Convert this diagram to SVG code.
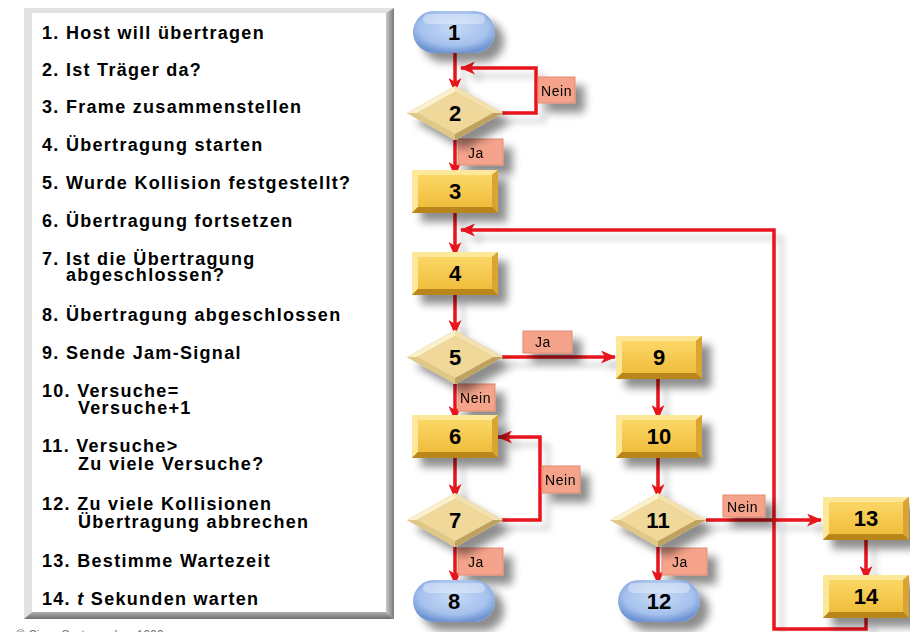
<svg xmlns="http://www.w3.org/2000/svg" xmlns:xlink="http://www.w3.org/1999/xlink" width="910" height="632" viewBox="0 0 910 632">
<style>
.lg{font-family:"Liberation Sans",Arial,sans-serif;font-weight:bold;font-size:18px;letter-spacing:1.3px;fill:#000}
.nd{font-family:"Liberation Sans",Arial,sans-serif;font-weight:bold;font-size:22px;fill:#000;text-anchor:middle}
.lb{font-family:"Liberation Sans",Arial,sans-serif;font-size:14px;letter-spacing:0.6px;fill:#000}
.lbx{fill:#f6a38b;stroke:#e08a70;stroke-width:1}
.cn{fill:none;stroke:#e8131b;stroke-width:3.5;stroke-linejoin:miter}
.ar{marker-end:url(#ah)}
</style>
<defs>
<filter id="sh" x="-30%" y="-30%" width="180%" height="180%">
<feGaussianBlur in="SourceAlpha" stdDeviation="4"/>
<feOffset dx="9" dy="9"/>
<feComponentTransfer><feFuncA type="linear" slope="0.45"/></feComponentTransfer>
<feMerge><feMergeNode/><feMergeNode in="SourceGraphic"/></feMerge>
</filter>
<filter id="shl" x="-10%" y="-10%" width="120%" height="120%">
<feGaussianBlur in="SourceAlpha" stdDeviation="3"/>
<feOffset dx="8" dy="8"/>
<feComponentTransfer><feFuncA type="linear" slope="0.2"/></feComponentTransfer>
<feMerge><feMergeNode/><feMergeNode in="SourceGraphic"/></feMerge>
</filter>
<linearGradient id="gBox" x1="0" y1="0" x2="0" y2="1"><stop offset="0" stop-color="#fbd766"/><stop offset="1" stop-color="#f0bd3c"/></linearGradient>
<radialGradient id="gPill" cx="0.5" cy="0.4" r="0.6"><stop offset="0" stop-color="#c8dbf7"/><stop offset="0.7" stop-color="#a5c1ed"/><stop offset="1" stop-color="#6e94d2"/></radialGradient>
<linearGradient id="gR" x1="0" y1="0" x2="1" y2="0"><stop offset="0" stop-color="#c8c8c8"/><stop offset="1" stop-color="#7a7a7a"/></linearGradient>
<linearGradient id="gB" x1="0" y1="0" x2="0" y2="1"><stop offset="0" stop-color="#b0b0b0"/><stop offset="1" stop-color="#6e6e6e"/></linearGradient>
<g id="box">
<rect width="86" height="43" fill="#c9962a"/>
<polygon points="0,0 86,0 80,5 6,5 6,37 0,43" fill="#fde799"/>
<polygon points="86,0 86,43 80,37 80,5" fill="#d9a432"/>
<polygon points="0,43 86,43 80,37 6,37" fill="#b9861c"/>
<rect x="6" y="5" width="74" height="32" fill="url(#gBox)"/>
</g>
<g id="dia">
<polygon points="0,27 48,0 96,27 48,54" fill="#cdb272"/>
<polygon points="0,27 48,0 48,6 10,27" fill="#fbf0cc"/>
<polygon points="48,0 96,27 86,27 48,6" fill="#f3e2b0"/>
<polygon points="0,27 10,27 48,48 48,54" fill="#e0c888"/>
<polygon points="96,27 48,54 48,48 86,27" fill="#bfa262"/>
<polygon points="10,27 48,6 86,27 48,48" fill="#efd89a"/>
</g>
<g id="pill">
<rect width="82" height="42" rx="21" fill="url(#gPill)"/>
<rect x="10" y="3" width="62" height="10" rx="5" fill="#fff" opacity="0.35"/>
</g>
<marker id="ah" markerWidth="15" markerHeight="13" refX="14" refY="6.5" orient="auto" markerUnits="userSpaceOnUse">
<path d="M0,0 L15,6.5 L0,13 L4,6.5 Z" fill="#e8131b"/>
</marker>
</defs>

<rect width="910" height="632" fill="#fff"/>

<g id="legend">
<rect x="24" y="8" width="370" height="611" fill="#fff"/>
<polygon points="24,8 394,8 386,13 32,13 32,612 24,619" fill="#e2e2e2"/>
<polygon points="394,8 394,619 386,612 386,13" fill="url(#gR)"/>
<polygon points="24,619 394,619 386,612 32,612" fill="url(#gB)"/>
<text class="lg" x="42" y="39">1. Host will übertragen</text>
<text class="lg" x="42" y="76">2. Ist Träger da?</text>
<text class="lg" x="42" y="113">3. Frame zusammenstellen</text>
<text class="lg" x="42" y="151">4. Übertragung starten</text>
<text class="lg" x="42" y="189">5. Wurde Kollision festgestellt?</text>
<text class="lg" x="42" y="227">6. Übertragung fortsetzen</text>
<text class="lg" x="42" y="265">7. Ist die Übertragung</text>
<text class="lg" x="66" y="281">abgeschlossen?</text>
<text class="lg" x="42" y="321">8. Übertragung abgeschlossen</text>
<text class="lg" x="42" y="359">9. Sende Jam-Signal</text>
<text class="lg" x="42" y="397">10. Versuche=</text>
<text class="lg" x="78" y="414">Versuche+1</text>
<text class="lg" x="42" y="452">11. Versuche&gt;</text>
<text class="lg" x="78" y="470">Zu viele Versuche?</text>
<text class="lg" x="42" y="510">12. Zu viele Kollisionen</text>
<text class="lg" x="78" y="528">Übertragung abbrechen</text>
<text class="lg" x="42" y="567">13. Bestimme Wartezeit</text>
<text class="lg" x="42" y="605">14. <tspan font-style="italic">t</tspan> Sekunden warten</text>
</g>
<text x="16" y="639" font-family="Liberation Sans, Arial, sans-serif" font-size="12" fill="#777">© Cisco Systems, Inc. 1999</text>

<g id="connectors" filter="url(#shl)">
<path class="cn ar" d="M455,52 V92"/>
<path class="cn ar" d="M502,113 H536 V68 H461"/>
<path class="cn ar" d="M455,140 V176"/>
<path class="cn ar" d="M455,213 V256"/>
<path class="cn ar" d="M866,618 V629 H774 V230 H461"/>
<path class="cn ar" d="M455,295 V334"/>
<path class="cn ar" d="M502,357 H615"/>
<path class="cn ar" d="M455,384 V420"/>
<path class="cn ar" d="M455,458 V498"/>
<path class="cn ar" d="M502,520 H540 V437 H498"/>
<path class="cn ar" d="M455,547 V584"/>
<path class="cn ar" d="M658,379 V419"/>
<path class="cn ar" d="M658,458 V498"/>
<path class="cn ar" d="M658,547 V584"/>
<path class="cn ar" d="M706,520 H821"/>
<path class="cn ar" d="M866,540 V580"/>
</g>

<g id="labels" filter="url(#sh)">
<g><rect class="lbx" x="538" y="77" width="37" height="26"/><text class="lb" x="541" y="96">Nein</text></g>
<g><rect class="lbx" x="458" y="139" width="45" height="26"/><text class="lb" x="468" y="158">Ja</text></g>
<g><rect class="lbx" x="523" y="331" width="49" height="22"/><text class="lb" x="535" y="347">Ja</text></g>
<g><rect class="lbx" x="458" y="384" width="37" height="27"/><text class="lb" x="460" y="403">Nein</text></g>
<g><rect class="lbx" x="542" y="466" width="38" height="27"/><text class="lb" x="545" y="485">Nein</text></g>
<g><rect class="lbx" x="458" y="548" width="45" height="27"/><text class="lb" x="468" y="567">Ja</text></g>
<g><rect class="lbx" x="662" y="548" width="45" height="27"/><text class="lb" x="672" y="567">Ja</text></g>
<g><rect class="lbx" x="723" y="495" width="42" height="22"/><text class="lb" x="727" y="512">Nein</text></g>
</g>

<g id="n1"><use href="#pill" x="413" y="11" filter="url(#sh)"/><text class="nd" x="454" y="40">1</text></g>
<g id="n2"><use href="#dia" x="407" y="86" filter="url(#sh)"/><text class="nd" x="455" y="121">2</text></g>
<g id="n3"><use href="#box" x="412" y="170" filter="url(#sh)"/><text class="nd" x="455" y="199">3</text></g>
<g id="n4"><use href="#box" x="412" y="252" filter="url(#sh)"/><text class="nd" x="455" y="281">4</text></g>
<g id="n5"><use href="#dia" x="407" y="330" filter="url(#sh)"/><text class="nd" x="455" y="365">5</text></g>
<g id="n6"><use href="#box" x="412" y="415" filter="url(#sh)"/><text class="nd" x="455" y="444">6</text></g>
<g id="n7"><use href="#dia" x="407" y="493" filter="url(#sh)"/><text class="nd" x="455" y="528">7</text></g>
<g id="n8"><use href="#pill" x="413" y="580" filter="url(#sh)"/><text class="nd" x="454" y="609">8</text></g>
<g id="n9"><use href="#box" x="616" y="336" filter="url(#sh)"/><text class="nd" x="659" y="365">9</text></g>
<g id="n10"><use href="#box" x="616" y="415" filter="url(#sh)"/><text class="nd" x="659" y="444">10</text></g>
<g id="n11"><use href="#dia" x="610" y="493" filter="url(#sh)"/><text class="nd" x="658" y="528">11</text></g>
<g id="n12"><use href="#pill" x="618" y="580" filter="url(#sh)"/><text class="nd" x="659" y="609">12</text></g>
<g id="n13"><use href="#box" x="823" y="497" filter="url(#sh)"/><text class="nd" x="866" y="526">13</text></g>
<g id="n14"><use href="#box" x="823" y="575" filter="url(#sh)"/><text class="nd" x="866" y="604">14</text></g>
</svg>
